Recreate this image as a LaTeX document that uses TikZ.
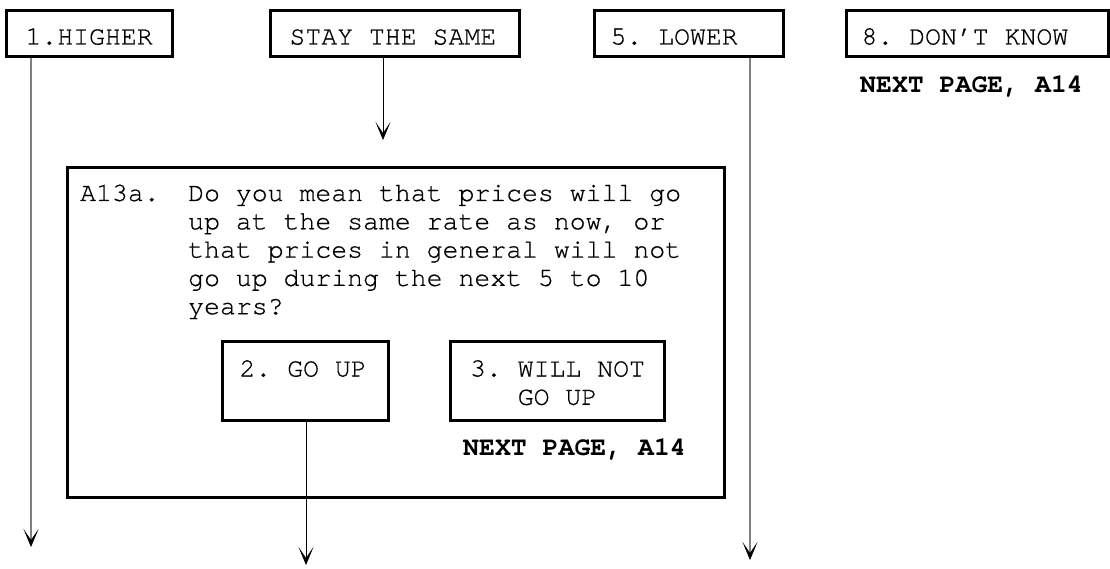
\documentclass[tikz,border=0pt]{standalone}
\usepackage{fontspec}
\setmonofont{TeX Gyre Cursor}[UprightFeatures={FakeBold=0.6}]
\usetikzlibrary{arrows.meta}
\newcommand\qfont{\ttfamily\fontsize{26.5}{28.3}\selectfont}
\newcommand\qbold{\ttfamily\bfseries\fontsize{26.5}{28.3}\selectfont}
\newcommand\fsp{\spaceskip=0.6em\relax\xspaceskip=0.6em\relax}
\definecolor{lgrey}{HTML}{808080}
\tikzset{
  boxn/.style={draw, line width=3pt, inner ysep=0pt, font=\qfont, anchor=north west},
  topbox/.style={boxn, align=left, text height=34pt, text depth=12pt},
  ansbox/.style={boxn, text height=35pt, text depth=44pt},
  plain/.style={font=\qfont, anchor=base west, inner sep=0pt},
  boldlab/.style={font=\qbold, anchor=base west, inner sep=0pt},
  tipv/.style={-{Stealth[color=black, length=18pt, width=15pt, inset=11pt, line width=0.6pt]}},
  gline/.style={draw=lgrey, line width=1.5pt, tipv},
  bline/.style={draw=black, line width=1pt, tipv},
}
\begin{document}
\begin{tikzpicture}[x=1pt, y=-1pt]
\useasboundingbox (0,0) rectangle (1110,569);
% top answer boxes
\node[topbox, inner xsep=19pt, text width=128pt] (higher) at (5,9) {\fsp 1.HIGHER};
\node[topbox, inner xsep=19pt, text width=211pt] (same) at (269,9) {\fsp STAY THE SAME};
\node[topbox, inner xsep=16pt, text width=157pt] (lower) at (593,9) {\fsp 5. LOWER};
\node[topbox, inner xsep=15pt, text width=232pt] (dk) at (845,9) {\fsp 8. DON’T KNOW};
\node[boldlab] (np1) at (860,93) {\fsp NEXT PAGE, A14};
% question box
\node[draw, line width=3pt, minimum width=657pt, minimum height=330pt, anchor=north west, inner sep=0pt] (qbox) at (66,166) {};
\node[plain] (qid) at (80,201) {A13a.};
\node[plain, text width=520pt, align=left] (qtext) at (188,201)
  {\fsp Do you mean that prices will go\\
   up at the same rate as now, or\\
   that prices in general will not\\
   go up during the next 5 to 10\\
   years?};
\node[ansbox, align=left, inner xsep=17pt, text width=132pt] (goup) at (221,340) {\fsp 2. GO UP};
\node[ansbox, align=center, inner xsep=19pt, text width=176pt] (notup) at (449,340) {\fsp 3. WILL NOT\\GO UP};
\node[boldlab] (np2) at (463,455) {\fsp NEXT PAGE, A14};
% connectors
\coordinate (hEnd) at (31,547);
\coordinate (sEnd) at (383,140);
\coordinate (lEnd) at (750,560);
\coordinate (gEnd) at (306,565);
\draw[gline] (hEnd |- higher.south) -- (hEnd);
\draw[bline] (sEnd |- same.south) -- (sEnd);
\draw[gline] (lEnd |- lower.south) -- (lEnd);
\draw[bline] (gEnd |- goup.south) -- (gEnd);
\end{tikzpicture}
\end{document}
